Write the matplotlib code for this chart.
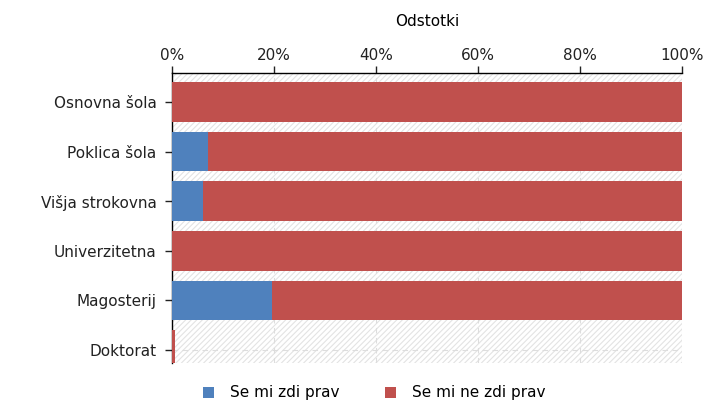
import numpy as np
import matplotlib
matplotlib.use("Agg")
from matplotlib import pyplot as plt
from matplotlib.patches import Rectangle

categories = ["Osnovna šola", "Poklica šola", "Višja strokovna", "Univerzitetna", "Magosterij", "Doktorat"]
prav = [0, 7, 6, 0, 19.7, 0]
ne_prav = [100, 93, 94, 100, 80.3, 0.6]
ticks = [0, 20, 40, 60, 80, 100]

blue = "#4F81BD"
red = "#C0504D"

plt.rcParams['font.family'] = ['DejaVu Sans']
plt.rcParams['hatch.color'] = '#e3e3e3'
plt.rcParams['hatch.linewidth'] = 0.8

fig = plt.figure(figsize=(7.07, 4.03), dpi=100)
ax = fig.add_axes([0.2433, 0.0993, 0.7214, 0.7196])

# hatched background
ax.add_patch(Rectangle((0, 0), 1, 1, transform=ax.transAxes, facecolor='white',
                       edgecolor='#e3e3e3', hatch='//////', linewidth=0, zorder=0))

y = np.arange(len(categories))
ax.barh(y, prav, height=0.8, color=blue, label="Se mi zdi prav", zorder=3)
ax.barh(y, ne_prav, left=prav, height=0.8, color=red, label="Se mi ne zdi prav", zorder=3)

ax.set_xlim(0, 100)
ax.set_ylim(len(categories) - 1 + 0.262, -0.585)
ax.set_yticks(y)
ax.set_yticklabels(categories, fontsize=11)
ax.set_xticks(ticks)
ax.set_xticklabels([f"{t}%" for t in ticks], fontsize=11)
ax.xaxis.tick_top()
ax.xaxis.set_label_position('top')
ax.set_xlabel("Odstotki", fontsize=11, labelpad=16)

ax.grid(True, linestyle=(0, (5, 4)), color='#dddddd', linewidth=0.8, zorder=1)
ax.set_axisbelow(True)

for s in ['right', 'bottom']:
    ax.spines[s].set_visible(False)
ax.spines['left'].set_linewidth(1.0)
ax.spines['top'].set_linewidth(1.0)
ax.spines['left'].set_zorder(2)
ax.tick_params(axis='x', length=5, width=1, pad=2, colors='#222222')
ax.tick_params(axis='y', length=5, width=1, pad=6, colors='#222222')

ax.legend(loc='upper center', bbox_to_anchor=(0.396, -0.03), ncol=2, frameon=False,
          fontsize=11, handlelength=0.75, handleheight=0.75, columnspacing=3.0,
          handletextpad=1.0)

fig.savefig("out.png", dpi=100)
